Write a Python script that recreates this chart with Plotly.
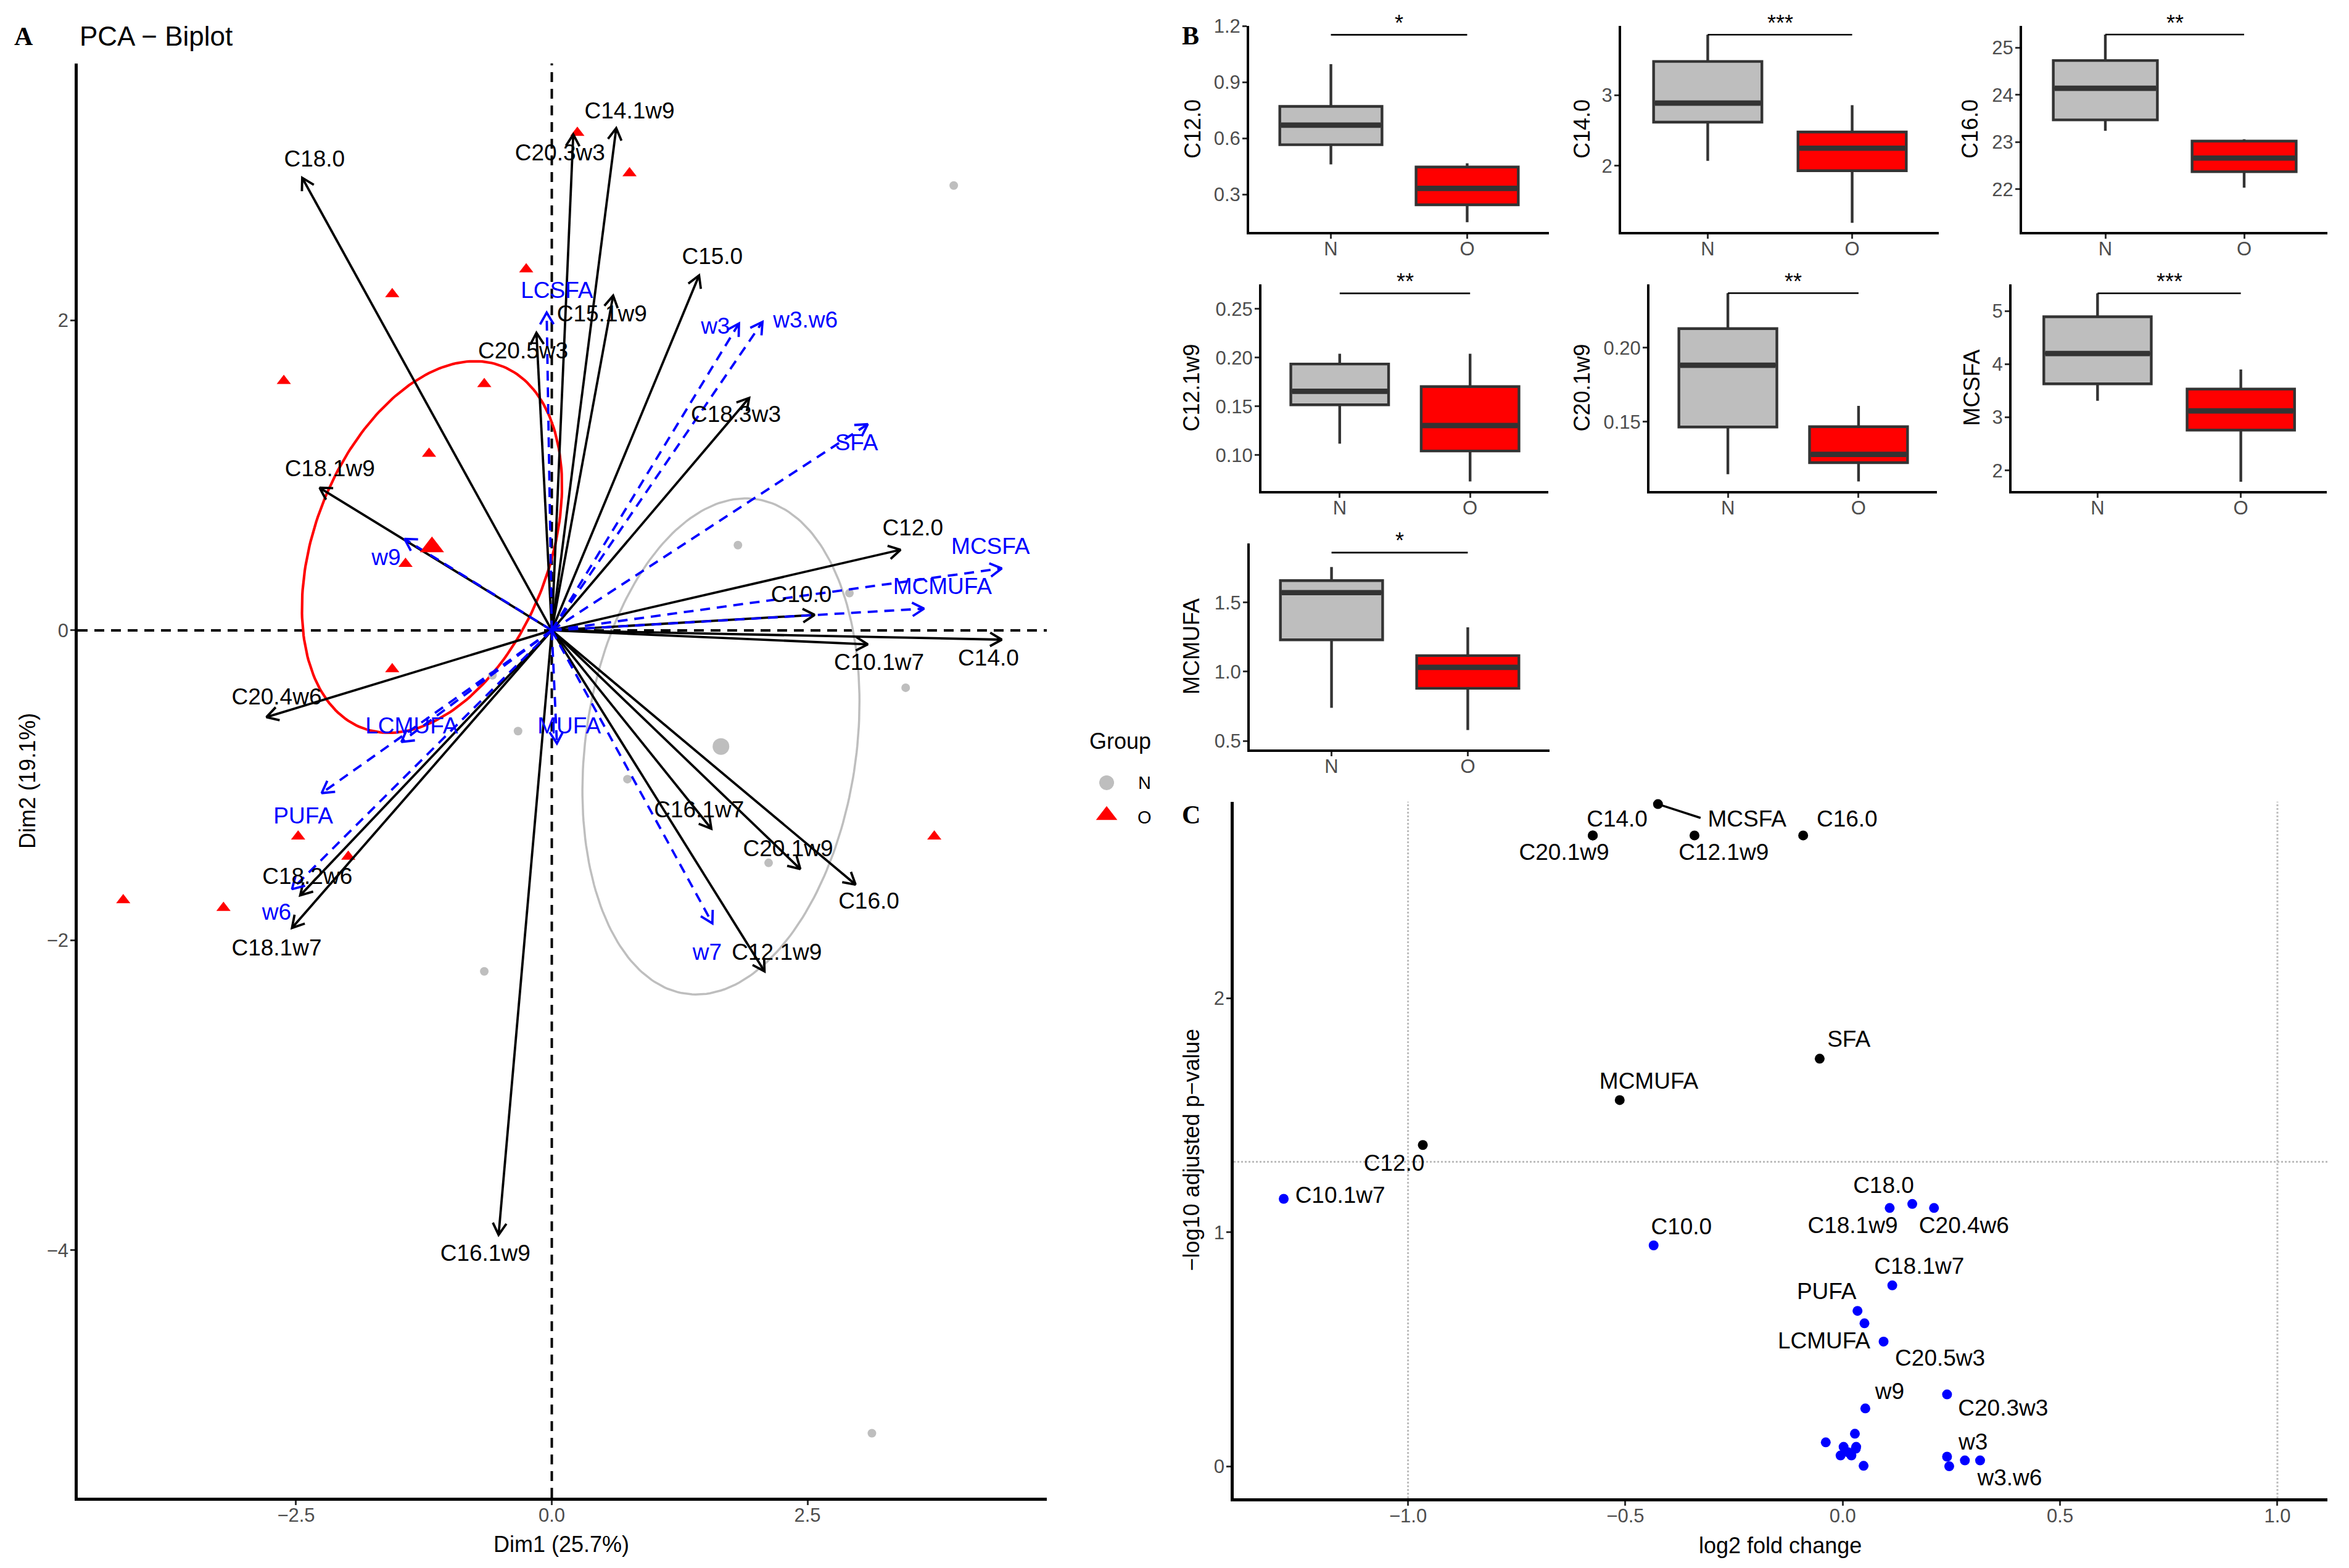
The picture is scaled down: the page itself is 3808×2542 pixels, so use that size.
import numpy as np
import plotly.graph_objects as go

W, H = 3808, 2542
FONT = "Liberation Sans"
SERIF = "Liberation Serif"
GREY, RED, BLUE, DARK, TXT = "#BEBEBE", "#FF0000", "#0000FF", "#333333", "#4D4D4D"

# ---------------- Panel A : PCA biplot data ----------------
ind_O_x = [0.25, 0.76, -0.25, -1.56, -2.62, -0.66, -1.20, -1.43, -1.56, -2.48, -1.99, -4.19, -3.21, 3.74]
ind_O_y = [3.21, 2.95, 2.33, 2.17, 1.61, 1.59, 1.14, 0.43, -0.25, -1.33, -1.46, -1.74, -1.79, -1.33]
ind_N_x = [3.93, 1.82, 2.91, 3.46, -0.58, -0.33, 0.74, 2.12, -0.66, 3.13]
ind_N_y = [2.87, 0.55, 0.24, -0.37, -0.29, -0.65, -0.96, -1.50, -2.20, -5.18]

act_names = ["C18.0", "C20.3w3", "C14.1w9", "C15.1w9", "C20.5w3", "C15.0", "C18.3w3", "C18.1w9",
             "C12.0", "C10.0", "C10.1w7", "C14.0", "C20.4w6", "C16.1w7", "C20.1w9", "C16.0",
             "C12.1w9", "C18.2w6", "C18.1w7", "C16.1w9"]
act_x = [-2.44, 0.21, 0.63, 0.60, -0.15, 1.44, 1.93, -2.27, 3.41, 2.57, 3.09, 4.40, -2.79, 1.56, 2.43, 2.97,
         2.08, -2.46, -2.54, -0.52]
act_y = [2.92, 3.20, 3.24, 2.16, 1.92, 2.29, 1.50, 0.92, 0.52, 0.10, -0.09, -0.06, -0.56, -1.28, -1.54, -1.64,
         -2.20, -1.71, -1.92, -3.90]

sup_names = ["LCSFA", "w3", "w3.w6", "SFA", "MCSFA", "MCMUFA", "w9", "MUFA", "LCMUFA", "PUFA", "w6", "w7"]
sup_x = [-0.05, 1.83, 2.06, 3.09, 4.40, 3.64, -1.44, 0.05, -1.47, -2.25, -2.54, 1.57]
sup_y = [2.05, 1.98, 1.99, 1.33, 0.40, 0.14, 0.59, -0.73, -0.72, -1.05, -1.67, -1.89]

# repelled label positions (layout)
act_lab = {"C18.0": (-2.32, 3.03), "C20.3w3": (0.08, 3.07), "C14.1w9": (0.76, 3.34), "C15.1w9": (0.49, 2.03),
           "C20.5w3": (-0.28, 1.79), "C15.0": (1.57, 2.40), "C18.3w3": (1.80, 1.38), "C18.1w9": (-2.17, 1.03),
           "C12.0": (3.53, 0.65), "C10.0": (2.44, 0.22), "C10.1w7": (3.20, -0.22), "C14.0": (4.27, -0.19),
           "C20.4w6": (-2.69, -0.44), "C16.1w7": (1.44, -1.17), "C20.1w9": (2.31, -1.42), "C16.0": (3.10, -1.76),
           "C12.1w9": (2.20, -2.09), "C18.2w6": (-2.39, -1.60), "C18.1w7": (-2.69, -2.06), "C16.1w9": (-0.65, -4.03)}
sup_lab = {"LCSFA": (0.05, 2.18), "w3": (1.60, 1.95), "w3.w6": (2.48, 1.99), "SFA": (2.98, 1.20),
           "MCSFA": (4.29, 0.53), "MCMUFA": (3.82, 0.27), "w9": (-1.62, 0.46), "MUFA": (0.17, -0.63),
           "LCMUFA": (-1.37, -0.63), "PUFA": (-2.43, -1.21), "w6": (-2.69, -1.83), "w7": (1.52, -2.09)}

# ---------------- Panel B : boxplots ----------------
box_vars = ["C12.0", "C14.0", "C16.0", "C12.1w9", "C20.1w9", "MCSFA", "MCMUFA"]
N_low = [0.460, 2.07, 23.24, 0.1118, 0.1146, 3.31, 0.739]
N_q1 = [0.565, 2.62, 23.47, 0.1516, 0.1465, 3.63, 1.23]
N_med = [0.670, 2.89, 24.14, 0.1655, 0.1883, 4.20, 1.571]
N_q3 = [0.770, 3.48, 24.73, 0.1935, 0.213, 4.89, 1.658]
N_high = [0.996, 3.86, 25.28, 0.204, 0.237, 5.33, 1.756]
O_low = [0.151, 1.19, 22.03, 0.0730, 0.1097, 1.79, 0.579]
O_q1 = [0.244, 1.93, 22.37, 0.1042, 0.1224, 2.76, 0.880]
O_med = [0.332, 2.25, 22.66, 0.1303, 0.128, 3.12, 1.031]
O_q3 = [0.446, 2.48, 23.02, 0.1703, 0.1467, 3.53, 1.116]
O_high = [0.466, 2.86, 23.06, 0.204, 0.1608, 3.90, 1.32]
sig_y = [1.153, 3.86, 25.28, 0.266, 0.237, 5.33, 1.86]
sig_lab = ["*", "***", "**", "**", "**", "***", "*"]
box_ticks = [[0.3, 0.6, 0.9, 1.2], [2, 3], [22, 23, 24, 25], [0.10, 0.15, 0.20, 0.25], [0.15, 0.20],
             [2, 3, 4, 5], [0.5, 1.0, 1.5]]
box_ticktext = [["0.3", "0.6", "0.9", "1.2"], ["2", "3"], ["22", "23", "24", "25"],
                ["0.10", "0.15", "0.20", "0.25"], ["0.15", "0.20"], ["2", "3", "4", "5"], ["0.5", "1.0", "1.5"]]
groups = ["N", "O"]

# ---------------- Panel C : volcano ----------------
vol_names = ["C14.0", "C20.1w9", "MCSFA", "C12.1w9", "C16.0", "SFA", "MCMUFA", "C12.0", "C10.1w7", "C18.0",
             "C18.1w9", "C20.4w6", "C10.0", "C18.1w7", "PUFA", "MUFA", "LCMUFA", "C20.5w3", "w9", "C20.3w3",
             "w3", "w3.w6", "C14.1w9", "C15.0", "C15.1w9", "C16.1w7", "C16.1w9", "C18.2w6", "C18.3w3",
             "LCSFA", "w6", "w7"]
vol_lfc = [-0.575, -0.575, -0.425, -0.341, -0.091, -0.053, -0.513, -0.966, -1.286, 0.160, 0.108, 0.210,
           -0.435, 0.114, 0.034, 0.050, 0.094, 0.240, 0.052, 0.245, 0.281, 0.316, 0.028, -0.039, 0.002,
           0.030, 0.031, -0.005, 0.020, 0.048, 0.240, 0.012]
vol_nlp = [2.696, 2.696, 2.830, 2.696, 2.696, 1.742, 1.565, 1.373, 1.143, 1.121, 1.104, 1.104, 0.944, 0.773,
           0.664, 0.611, 0.533, 0.307, 0.247, 0.000, 0.025, 0.025, 0.139, 0.102, 0.083, 0.075, 0.083, 0.046,
           0.046, 0.002, 0.041, 0.060]
p_cut = 0.05
fc_cut = 1.0
vol_lab = {"C14.0": (-0.519, 2.758), "MCSFA": (-0.220, 2.758), "C16.0": (0.010, 2.758),
           "C20.1w9": (-0.641, 2.615), "C12.1w9": (-0.274, 2.615), "SFA": (0.014, 1.817),
           "MCMUFA": (-0.446, 1.637), "C12.0": (-1.032, 1.288), "C10.1w7": (-1.156, 1.149),
           "C18.0": (0.094, 1.193), "C18.1w9": (0.023, 1.020), "C20.4w6": (0.279, 1.020),
           "C10.0": (-0.371, 1.017), "C18.1w7": (0.176, 0.846), "PUFA": (-0.037, 0.738),
           "LCMUFA": (-0.043, 0.527), "C20.5w3": (0.224, 0.454), "w9": (0.108, 0.313),
           "C20.3w3": (0.369, 0.240), "w3": (0.300, 0.096), "w3.w6": (0.384, -0.058)}
vol_seg_end = {"MCSFA": (-0.327, 2.771)}

# ---------------- layout helpers ----------------
def Y(y):
    # small vertical calibration of the target pixel grid
    return (y - 14.0) / 0.9942

def dx(a, b):
    return [a / W, b / W]

def dy(top, bottom):
    return [1 - Y(bottom) / H, 1 - Y(top) / H]

def ax_style(**kw):
    d = dict(showline=True, linecolor="black", linewidth=4.5, ticks="outside", ticklen=7, tickwidth=3,
             tickcolor=DARK, tickfont=dict(family=FONT, size=31, color=TXT), showgrid=False,
             zeroline=False, mirror=False, ticklabelstandoff=-10)
    d.update(kw)
    return d

def yax(**kw):
    kw.setdefault("ticklabelstandoff", -3)
    return ax_style(**kw)

def ptext(text, x, y, size=36, angle=0, xanchor="center", family=FONT):
    return dict(text=text, x=x / W, y=1 - Y(y) / H, xref="paper", yref="paper", showarrow=False,
                xanchor=xanchor, yanchor="middle", textangle=angle,
                font=dict(family=family, size=size, color="black"))

fig = go.Figure()
annotations = []
shapes = []

# ---------- Panel A ----------
A_px = (126, 1697, 100, 2431)
A_xr = [-4.635, 4.84]
A_yr = [-5.596, 3.658]
sx = (A_px[1] - A_px[0]) / (A_xr[1] - A_xr[0])
sy = (Y(A_px[3]) - Y(A_px[2])) / (A_yr[1] - A_yr[0])

shapes.append(dict(type="line", xref="x", yref="y domain", x0=0, x1=0, y0=0, y1=1,
                   line=dict(color="black", width=4, dash="16px,11px"), layer="below"))
shapes.append(dict(type="line", xref="x domain", yref="y", x0=0, x1=1, y0=0, y1=0,
                   line=dict(color="black", width=4, dash="16px,11px"), layer="below"))


def conf_ellipse(x, y, n=240):
    x = np.asarray(x, float)
    y = np.asarray(y, float)
    m = np.array([x.mean(), y.mean()])
    S = np.cov(np.vstack([x, y])) / len(x)
    r = np.sqrt(-2 * np.log(0.05))
    vals, vecs = np.linalg.eigh(S)
    t = np.linspace(0, 2 * np.pi, n)
    circ = np.vstack([np.cos(t), np.sin(t)])
    pts = vecs @ (np.sqrt(vals)[:, None] * circ) * r + m[:, None]
    return pts[0], pts[1]

for gx, gy, col, w in [(ind_N_x, ind_N_y, GREY, 3.5), (ind_O_x, ind_O_y, RED, 4.2)]:
    ex, ey = conf_ellipse(gx, gy)
    fig.add_trace(go.Scatter(x=ex, y=ey, mode="lines", line=dict(color=col, width=w),
                             showlegend=False, hoverinfo="skip", xaxis="x", yaxis="y"))

fig.add_trace(go.Scatter(x=ind_N_x, y=ind_N_y, mode="markers",
                         marker=dict(symbol="circle", size=14, color=GREY), showlegend=False,
                         xaxis="x", yaxis="y"))
fig.add_trace(go.Scatter(x=ind_O_x, y=ind_O_y, mode="markers",
                         marker=dict(symbol="triangle-up", size=20, color=RED), showlegend=False,
                         xaxis="x", yaxis="y"))


def arrows(xs, ys, L=22, ang=np.radians(30)):
    shaft_x, shaft_y, head_x, head_y = [], [], [], []
    for x1, y1 in zip(xs, ys):
        shaft_x += [0, x1, None]
        shaft_y += [0, y1, None]
        ddx, ddy = x1 * sx, y1 * sy
        nrm = np.hypot(ddx, ddy)
        ux, uy = ddx / nrm, ddy / nrm
        pts = []
        for a in (ang, -ang):
            c, s = np.cos(a), np.sin(a)
            rx, ry = ux * c - uy * s, ux * s + uy * c
            pts.append((x1 - L * rx / sx, y1 - L * ry / sy))
        head_x += [pts[0][0], x1, pts[1][0], None]
        head_y += [pts[0][1], y1, pts[1][1], None]
    return shaft_x, shaft_y, head_x, head_y

for xs, ys, col, dash in [(act_x, act_y, "black", "solid"), (sup_x, sup_y, BLUE, "16px,11px")]:
    a, b, c, d = arrows(xs, ys)
    fig.add_trace(go.Scatter(x=a, y=b, mode="lines", line=dict(color=col, width=3.8, dash=dash),
                             showlegend=False, hoverinfo="skip", xaxis="x", yaxis="y"))
    fig.add_trace(go.Scatter(x=c, y=d, mode="lines", line=dict(color=col, width=3.8),
                             showlegend=False, hoverinfo="skip", xaxis="x", yaxis="y"))

# group means
fig.add_trace(go.Scatter(x=[np.mean(ind_N_x)], y=[np.mean(ind_N_y)], mode="markers",
                         marker=dict(symbol="circle", size=27, color=GREY), showlegend=False,
                         xaxis="x", yaxis="y"))
fig.add_trace(go.Scatter(x=[np.mean(ind_O_x)], y=[np.mean(ind_O_y)], mode="markers",
                         marker=dict(symbol="triangle-up", size=34, color=RED), showlegend=False,
                         xaxis="x", yaxis="y"))

fig.add_trace(go.Scatter(x=[act_lab[n][0] for n in act_names], y=[act_lab[n][1] for n in act_names],
                         text=act_names, mode="text", textposition="middle center",
                         textfont=dict(family=FONT, size=37, color="black"), showlegend=False,
                         hoverinfo="skip", cliponaxis=False, xaxis="x", yaxis="y"))
fig.add_trace(go.Scatter(x=[sup_lab[n][0] for n in sup_names], y=[sup_lab[n][1] for n in sup_names],
                         text=sup_names, mode="text", textposition="middle center",
                         textfont=dict(family=FONT, size=37, color=BLUE), showlegend=False,
                         hoverinfo="skip", cliponaxis=False, xaxis="x", yaxis="y"))

layout_axes = {}
layout_axes["xaxis"] = ax_style(domain=dx(A_px[0], A_px[1]), range=A_xr, tickvals=[-2.5, 0, 2.5],
                                ticktext=["\u22122.5", "0.0", "2.5"], anchor="y")
layout_axes["yaxis"] = yax(domain=dy(A_px[2], A_px[3]), range=A_yr, tickvals=[-4, -2, 0, 2],
                           ticktext=["\u22124", "\u22122", "0", "2"], anchor="x")

annotations.append(ptext("Dim1 (25.7%)", 910, 2507))
annotations.append(ptext("Dim2 (19.1%)", 45, 1266, angle=-90))
annotations.append(ptext("PCA \u2212 Biplot", 127, 56, size=44, xanchor="left"))
for lab, (lx, ly) in {"A": (38, 56), "B": (1930, 55), "C": (1931, 1321)}.items():
    annotations.append(ptext("<b>%s</b>" % lab, lx, ly, size=42, family=SERIF))

# legend (manual)
layout_axes["xaxis10"] = dict(domain=dx(1760, 1900), range=[1760, 1900], visible=False, anchor="y10")
layout_axes["yaxis10"] = dict(domain=dy(1170, 1350), range=[1350, 1170], visible=False, anchor="x10")
fig.add_trace(go.Scatter(x=[1794], y=[1269], mode="markers", marker=dict(symbol="circle", size=24, color=GREY),
                         showlegend=False, hoverinfo="skip", xaxis="x10", yaxis="y10"))
fig.add_trace(go.Scatter(x=[1794], y=[1322], mode="markers",
                         marker=dict(symbol="triangle-up", size=30, color=RED),
                         showlegend=False, hoverinfo="skip", xaxis="x10", yaxis="y10"))
annotations.append(ptext("Group", 1816, 1201))
for g, yy in zip(groups, [1269, 1325]):
    annotations.append(ptext(g, 1855, yy, size=29))

# ---------- Panel B ----------
box_dom = [(2025, 2511, 39, 374), (2628, 3143, 39, 374), (3278, 3773, 39, 374),
           (2045, 2510, 459, 795), (2674, 3140, 459, 795), (3261, 3772, 459, 795),
           (2026, 2512, 880, 1215)]
box_yr = [[0.0985, 1.2005], [1.061, 3.985], [21.091, 25.465], [0.0631, 0.2753], [0.1032, 0.243],
          [1.614, 5.50], [0.438, 1.927]]
box_title_x = [1933, 2564, 3193, 1931, 2564, 3196, 1932]
BW = 0.75
for i, v in enumerate(box_vars):
    k = i + 2
    xa, ya = "x%d" % k, "y%d" % k
    stats = [(N_low[i], N_q1[i], N_med[i], N_q3[i], N_high[i], GREY),
             (O_low[i], O_q1[i], O_med[i], O_q3[i], O_high[i], RED)]
    for j, (lo, q1, md, q3, hi, col) in enumerate(stats):
        xpos = j + 1
        fig.add_trace(go.Box(x=[xpos], q1=[q1], median=[md], q3=[q3], lowerfence=[lo], upperfence=[hi],
                             width=BW, fillcolor=col, line=dict(color=DARK, width=4.4), whiskerwidth=0,
                             boxpoints=False, showlegend=False, hoverinfo="skip", xaxis=xa, yaxis=ya))
        fig.add_trace(go.Scatter(x=[xpos - BW / 2 + 0.01, xpos + BW / 2 - 0.01], y=[md, md], mode="lines",
                                 line=dict(color=DARK, width=8.7), showlegend=False, hoverinfo="skip",
                                 xaxis=xa, yaxis=ya))
    fig.add_trace(go.Scatter(x=[1, 2], y=[sig_y[i], sig_y[i]], mode="lines", line=dict(color="black", width=2.6),
                             showlegend=False, hoverinfo="skip", xaxis=xa, yaxis=ya))
    annotations.append(dict(text=sig_lab[i], x=1.5, y=sig_y[i], xref=xa, yref=ya, showarrow=False,
                            xanchor="center", yanchor="middle", yshift=19,
                            font=dict(family=FONT, size=36, color="black")))
    l, r, t, b = box_dom[i]
    layout_axes["xaxis%d" % k] = ax_style(domain=dx(l, r), range=[0.4, 2.6], tickvals=[1, 2], ticktext=groups,
                                          anchor=ya, linewidth=4)
    layout_axes["yaxis%d" % k] = yax(domain=dy(t, b), range=box_yr[i], tickvals=box_ticks[i],
                                     ticktext=box_ticktext[i], anchor=xa, linewidth=4)
    annotations.append(ptext(v, box_title_x[i], (t + b) / 2, angle=-90))

# ---------- Panel C ----------
C_px = (2000, 3773, 1300, 2432)
thr = -np.log10(p_cut)
shapes.append(dict(type="line", xref="x9", yref="y9 domain", x0=-fc_cut, x1=-fc_cut, y0=0, y1=1,
                   line=dict(color="#BDBDBD", width=3, dash="dot"), layer="below"))
shapes.append(dict(type="line", xref="x9", yref="y9 domain", x0=fc_cut, x1=fc_cut, y0=0, y1=1,
                   line=dict(color="#BDBDBD", width=3, dash="dot"), layer="below"))
shapes.append(dict(type="line", xref="x9 domain", yref="y9", x0=0, x1=1.0, y0=thr, y1=thr,
                   line=dict(color="#BDBDBD", width=3, dash="dot"), layer="below"))
vol_col = ["black" if p > thr else BLUE for p in vol_nlp]
for n, (ex, ey) in vol_seg_end.items():
    idx = vol_names.index(n)
    fig.add_trace(go.Scatter(x=[vol_lfc[idx], ex], y=[vol_nlp[idx], ey], mode="lines",
                             line=dict(color="black", width=3.5), showlegend=False, hoverinfo="skip",
                             xaxis="x9", yaxis="y9", cliponaxis=False))
fig.add_trace(go.Scatter(x=vol_lfc, y=vol_nlp, mode="markers", marker=dict(size=16, color=vol_col),
                         text=vol_names, showlegend=False, xaxis="x9", yaxis="y9", cliponaxis=False))
lab_names = list(vol_lab.keys())
fig.add_trace(go.Scatter(x=[vol_lab[n][0] for n in lab_names], y=[vol_lab[n][1] for n in lab_names],
                         text=lab_names, mode="text", textposition="middle center",
                         textfont=dict(family=FONT, size=37, color="black"), showlegend=False,
                         hoverinfo="skip", cliponaxis=False, xaxis="x9", yaxis="y9"))
layout_axes["xaxis9"] = ax_style(domain=dx(C_px[0], C_px[1]), range=[-1.401, 1.115],
                                 tickvals=[-1, -0.5, 0, 0.5, 1],
                                 ticktext=["\u22121.0", "\u22120.5", "0.0", "0.5", "1.0"], anchor="y9")
layout_axes["yaxis9"] = yax(domain=dy(C_px[2], C_px[3]), range=[-0.137, 2.84], tickvals=[0, 1, 2],
                            ticktext=["0", "1", "2"], anchor="x9")
annotations.append(ptext("log2 fold change", 2886, 2509))
annotations.append(ptext("\u2212log10 adjusted p\u2212value", 1931, 1866, angle=-90))

fig.update_layout(width=W, height=H, autosize=False, margin=dict(l=0, r=0, t=0, b=0, pad=0),
                  paper_bgcolor="white", plot_bgcolor="white", showlegend=False,
                  font=dict(family=FONT), annotations=annotations, shapes=shapes, **layout_axes)

fig.write_html("out.html", config={"displayModeBar": False},
               post_script="document.documentElement.style.margin='0px';document.documentElement.style.padding='0px';document.body.style.margin='0px';document.body.style.padding='0px';document.body.style.overflow='hidden';")
